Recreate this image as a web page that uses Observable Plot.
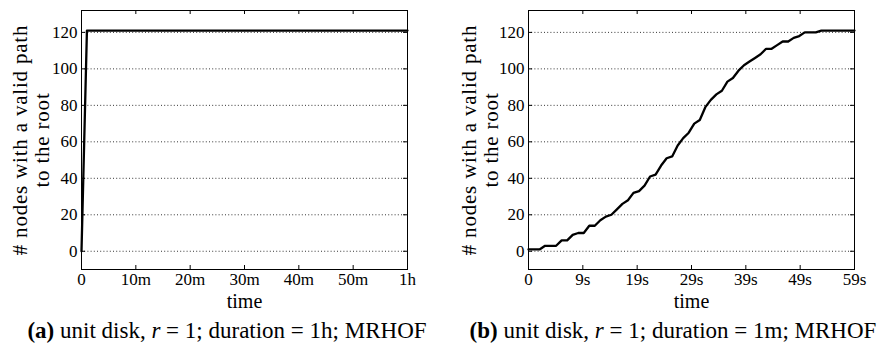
<!DOCTYPE html>
<html>
<head>
<meta charset="utf-8">
<script src="https://cdn.jsdelivr.net/npm/d3@7"></script>
<script src="https://cdn.jsdelivr.net/npm/@observablehq/plot@0.6"></script>
</head>
<body style="margin:0;padding:0;background:#fff">
<div id="root" style="position:relative;width:879px;height:349px;overflow:hidden;background:#fff">
  <div id="left" style="position:absolute;top:0;left:0px;width:440px"></div>
  <div id="right" style="position:absolute;top:0;left:440px;width:439px"></div>
  <div style="position:absolute;top:318px;left:227px;transform:translateX(-50%);white-space:nowrap;font-family:'Liberation Serif';font-size:23px;color:#000"><b>(a)</b> unit disk, <i>r</i> = 1; duration = 1h; MRHOF</div>
  <div style="position:absolute;top:318px;left:673px;transform:translateX(-50%);white-space:nowrap;font-family:'Liberation Serif';font-size:23px;color:#000"><b>(b)</b> unit disk, <i>r</i> = 1; duration = 1m; MRHOF</div>
</div>
<script>
// ---- data ----
const leftTime = [0, 1, 60];            // minutes
const leftNodes = [0, 121, 121];
const rightTime = [0,1,2,3,4,5,6,7,8,9,10,11,12,13,14,15,16,17,18,19,20,21,22,23,24,25,26,27,28,29,30,31,32,33,34,35,36,37,38,39,40,41,42,43,44,45,46,47,48,49,50,51,52,53,54,55,56,57,58,59]; // seconds
const rightNodes = [1,1,1,3,3,3,6,6,9,10,10,14,14,17,19,20,23,26,28,32,33,36,41,42,47,51,52,58,62,65,70,72,79,83,86,88,93,95,99,102,104,106,108,111,111,113,115,115,117,118,120,120,120,121,121,121,121,121,121,121];
const yTicks = [0, 20, 40, 60, 80, 100, 120];
const leftXTicks = [0, 10, 20, 30, 40, 50, 60];
const leftXLabels = ["0", "10m", "20m", "30m", "40m", "50m", "1h"];
const rightXTicks = [0, 9.833, 19.667, 29.5, 39.333, 49.167, 59];
const rightXLabels = ["0", "9s", "19s", "29s", "39s", "49s", "59s"];
const yLabel = "# nodes with a valid path\nto the root";
const xLabel = "time";

const FONT = "'Liberation Serif'";

function panel({width, marginLeft, marginRight, xDomain, xTicks, xLabels, times, nodes, labelDx}) {
  const height = 318, marginTop = 10, marginBottom = 49;
  const ph = height - marginTop - marginBottom;
  const pw = width - marginLeft - marginRight;
  const data = times.map((t, i) => ({t, v: nodes[i]}));
  const labelIdx = new Map(xTicks.map((t, i) => [t, xLabels[i]]));
  const svg = Plot.plot({
    width, height, marginLeft, marginRight, marginTop, marginBottom,
    style: {background: "#fff", color: "#000"},
    x: {domain: xDomain},
    y: {domain: [-10, 132]},
    marks: [
      Plot.ruleY(yTicks, {y: d => d, stroke: "#000", strokeWidth: 0.8, strokeDasharray: "1,2.2"}),
      Plot.line(data, {x: "t", y: "v", stroke: "#000", strokeWidth: 2.3, strokeLinejoin: "round"}),
      // inward ticks (bottom/top/left/right)
      Plot.ruleX(xTicks, {x: d => d, stroke: "#000", strokeWidth: 1, insetTop: ph - 4}),
      Plot.ruleX(xTicks, {x: d => d, stroke: "#000", strokeWidth: 1, insetBottom: ph - 4}),
      Plot.ruleY(yTicks, {y: d => d, stroke: "#000", strokeWidth: 1, insetRight: pw - 4}),
      Plot.ruleY(yTicks, {y: d => d, stroke: "#000", strokeWidth: 1, insetLeft: pw - 4}),
      Plot.axisX(xTicks, {tickSize: 0, tickPadding: 3, tickFormat: d => labelIdx.get(d), label: null, fontSize: 17}),
      Plot.axisY(yTicks, {tickSize: 0, tickPadding: 4, label: null, fontSize: 17}),
      Plot.frame({stroke: "#000", strokeWidth: 1}),
      Plot.text([yLabel], {frameAnchor: "left", rotate: -90, dx: labelDx, textAnchor: "middle", lineAnchor: "middle", lineHeight: 1.05, fontSize: 21, fill: "#000"}),
      Plot.text([xLabel], {frameAnchor: "bottom", dy: 32, textAnchor: "middle", lineAnchor: "middle", fontSize: 20, fill: "#000"})
    ]
  });
  d3.select(svg).attr("font-family", FONT).style("font-family", FONT);
  d3.select(svg).selectAll("text").style("font-family", FONT);
  d3.select(svg).selectAll("text").filter(function() { return this.textContent.startsWith("#"); }).style("letter-spacing", "0.8px");
  return svg;
}

document.getElementById("left").appendChild(panel({
  width: 440, marginLeft: 81, marginRight: 33, xDomain: [0, 60],
  xTicks: leftXTicks, xLabels: leftXLabels, times: leftTime, nodes: leftNodes, labelDx: -51
}));
document.getElementById("right").appendChild(panel({
  width: 439, marginLeft: 88, marginRight: 25, xDomain: [0, 59],
  xTicks: rightXTicks, xLabels: rightXLabels, times: rightTime, nodes: rightNodes, labelDx: -49
}));
</script>
</body>
</html>
